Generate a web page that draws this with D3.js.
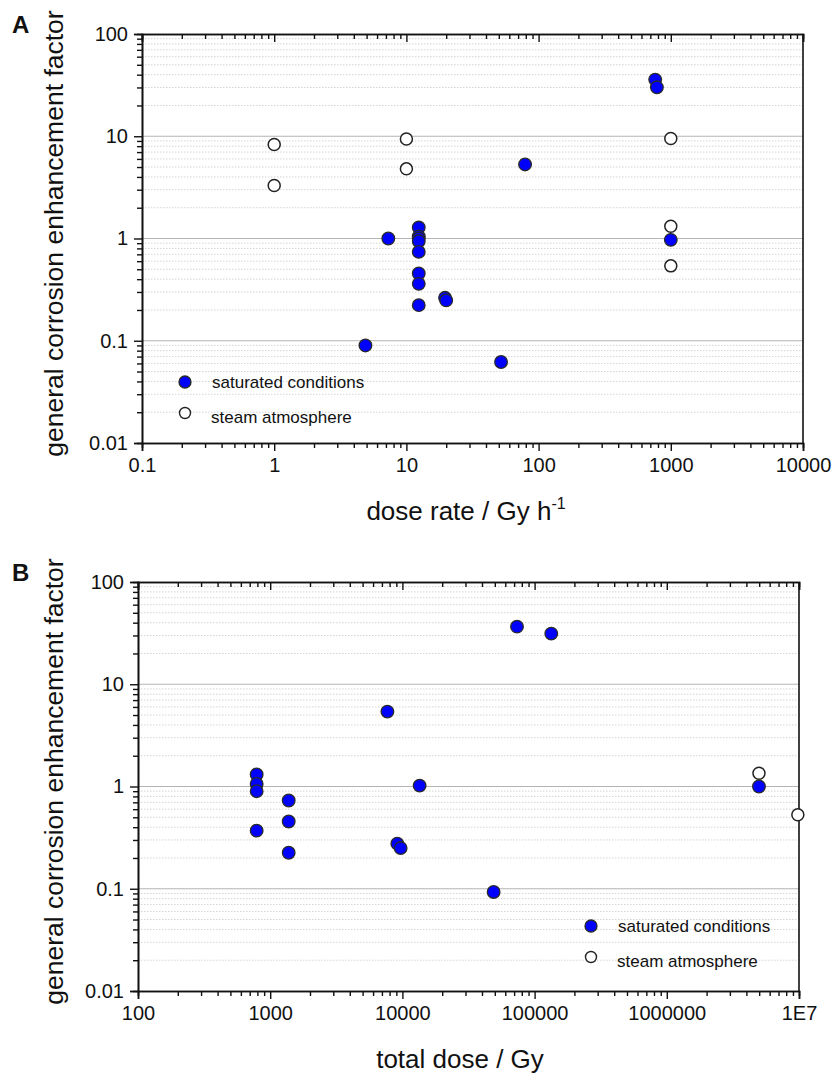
<!DOCTYPE html>
<html>
<head>
<meta charset="utf-8">
<script src="https://cdn.jsdelivr.net/npm/d3@7/dist/d3.min.js"></script>
<style>
  body { margin: 0; background: #fff; }
  svg text { font-family: "Liberation Sans", Arial, sans-serif; fill: #111; }
</style>
</head>
<body>
<div id="chart"></div>
<script>
// panel A: dose rate (Gy/h) vs enhancement factor
var rateSatX   = [7.3, 12.4, 12.4, 12.4, 12.4, 12.4, 12.4, 12.4, 12.4, 19.6, 20, 4.9, 52, 79, 762, 785, 1000];
var rateSatY   = [1.0, 1.28, 1.05, 1.0, 0.94, 0.74, 0.455, 0.36, 0.223, 0.263, 0.248, 0.09, 0.062, 5.3, 35.8, 30.1, 0.97];
var rateSteamX = [1, 1, 10, 10, 1000, 1000, 1000];
var rateSteamY = [8.3, 3.3, 9.4, 4.8, 9.5, 1.32, 0.54];

// panel B: total dose (Gy) vs enhancement factor
var doseSatX   = [790, 790, 790, 790, 1380, 1380, 1380, 7700, 9150, 9700, 13500, 49000, 73600, 133700, 4980000];
var doseSatY   = [1.31, 1.06, 0.9, 0.37, 0.73, 0.455, 0.225, 5.4, 0.276, 0.25, 1.02, 0.093, 36.6, 31.3, 1.0];
var doseSteamX = [4980000, 9800000];
var doseSteamY = [1.35, 0.53];

var rateTicks = ["0.1", "1", "10", "100", "1000", "10000"];
var doseTicks = ["100", "1000", "10000", "100000", "1000000", "1E7"];
var yTicks    = ["0.01", "0.1", "1", "10", "100"];

var svg = d3.select("#chart").append("svg")
	.attr("width", 835)
	.attr("height", 1073);

function minorsFor(decades){
	var out = [];
	for (var i = 0; i < decades.length - 1; i++) {
		for (var k = 2; k <= 9; k++) out.push(decades[i] * k);
	}
	return out;
}

function drawPanel(p){
	var x = d3.scaleLog().domain(p.xDomain).range([p.left, p.right]);
	var y = d3.scaleLog().domain([0.01, 100]).range([p.bottom, p.top]);
	var g = svg.append("g");

	var xMajor = p.xLabels.map(Number);
	var yMajor = yTicks.map(Number);
	var xMinor = minorsFor(xMajor);
	var yMinor = minorsFor(yMajor);

	// minor grid (dotted)
	g.selectAll(".gminor").data(yMinor).enter().append("line")
		.attr("x1", p.left).attr("x2", p.right)
		.attr("y1", function(d){ return y(d); })
		.attr("y2", function(d){ return y(d); })
		.attr("stroke", "#d4d4d4")
		.attr("stroke-width", 1)
		.attr("stroke-dasharray", "1.5,1.5");
	// major grid
	g.selectAll(".gmajor").data([0.1, 1, 10]).enter().append("line")
		.attr("x1", p.left).attr("x2", p.right)
		.attr("y1", function(d){ return y(d); })
		.attr("y2", function(d){ return y(d); })
		.attr("stroke", "#b4b4b4")
		.attr("stroke-width", 1.2);

	// axes
	var fmtX = function(d, i){ return p.xLabels[i]; };
	g.append("g").attr("transform", "translate(0," + p.bottom + ")")
		.call(d3.axisBottom(x).tickValues(xMajor).tickFormat(fmtX).tickSize(8).tickPadding(7))
		.call(styleAxis, 20);
	g.append("g").attr("transform", "translate(0," + p.bottom + ")")
		.call(d3.axisBottom(x).tickValues(xMinor).tickFormat("").tickSize(5))
		.call(styleAxis, 20);
	g.append("g").attr("transform", "translate(0," + p.top + ")")
		.call(d3.axisTop(x).tickValues(xMajor).tickFormat("").tickSize(-8))
		.call(styleAxis, 20);
	g.append("g").attr("transform", "translate(0," + p.top + ")")
		.call(d3.axisTop(x).tickValues(xMinor).tickFormat("").tickSize(-5))
		.call(styleAxis, 20);
	g.append("g").attr("transform", "translate(" + p.left + ",0)")
		.call(d3.axisLeft(y).tickValues(yMajor).tickFormat(function(d, i){ return yTicks[i]; }).tickSize(8).tickPadding(6))
		.call(styleAxis, 20);
	g.append("g").attr("transform", "translate(" + p.left + ",0)")
		.call(d3.axisLeft(y).tickValues(yMinor).tickFormat("").tickSize(5))
		.call(styleAxis, 20);
	g.append("line")
		.attr("x1", p.right).attr("x2", p.right)
		.attr("y1", p.top).attr("y2", p.bottom)
		.attr("stroke", "#111").attr("stroke-width", 1.6);

	// points
	var steam = p.steamX.map(function(v, i){ return [v, p.steamY[i]]; });
	var sat = p.satX.map(function(v, i){ return [v, p.satY[i]]; });
	g.selectAll(".steam").data(steam).enter().append("circle")
		.attr("cx", function(d){ return x(d[0]); })
		.attr("cy", function(d){ return y(d[1]); })
		.attr("r", 6)
		.attr("fill", "#fff")
		.attr("stroke", "#222")
		.attr("stroke-width", 1.5);
	g.selectAll(".sat").data(sat).enter().append("circle")
		.attr("cx", function(d){ return x(d[0]); })
		.attr("cy", function(d){ return y(d[1]); })
		.attr("r", 6.3)
		.attr("fill", "#0000ff")
		.attr("stroke", "#2a2a2a")
		.attr("stroke-width", 1.3);

	// legend
	var lg = g.append("g").attr("transform", "translate(" + p.legend[0] + "," + p.legend[1] + ")");
	lg.append("circle").attr("cx", 0).attr("cy", 0).attr("r", 6)
		.attr("fill", "#0000ff").attr("stroke", "#2a2a2a").attr("stroke-width", 1.3);
	lg.append("text").attr("x", 27).attr("y", 6).attr("font-size", 17).text("saturated conditions");
	lg.append("circle").attr("cx", 0).attr("cy", 31).attr("r", 5.5)
		.attr("fill", "#fff").attr("stroke", "#222").attr("stroke-width", 1.4);
	lg.append("text").attr("x", 26).attr("y", 41).attr("font-size", 17).text("steam atmosphere");

	// titles
	var xt = g.append("text")
		.attr("x", p.xTitleX).attr("y", p.bottom + 77)
		.attr("text-anchor", "middle")
		.attr("font-size", 26);
	xt.append("tspan").text(p.xTitle);
	if (p.sup) xt.append("tspan").attr("font-size", 16).attr("dy", -11).text(p.sup);

	g.append("text")
		.attr("transform", "translate(63," + ((p.top + p.bottom) / 2 - 5) + ") rotate(-90)")
		.attr("text-anchor", "middle")
		.attr("font-size", 26.5)
		.text("general corrosion enhancement factor");

	g.append("text")
		.attr("x", 12).attr("y", p.top - 1)
		.attr("font-size", 24)
		.attr("font-weight", "bold")
		.text(p.label);
}

function styleAxis(sel, fs){
	sel.select(".domain").attr("stroke", "#111").attr("stroke-width", 1.6);
	sel.selectAll(".tick line").attr("stroke", "#111").attr("stroke-width", 1.4);
	sel.selectAll(".tick text").attr("font-size", fs)
		.attr("font-family", "Liberation Sans, Arial, sans-serif").attr("fill", "#111");
}

drawPanel({
	label: "A", left: 142, right: 803, top: 34, bottom: 443,
	xDomain: [0.1, 10000], xLabels: rateTicks,
	satX: rateSatX, satY: rateSatY, steamX: rateSteamX, steamY: rateSteamY,
	legend: [185, 382], xTitle: "dose rate / Gy h", sup: "-1", xTitleX: 466
});
drawPanel({
	label: "B", left: 138, right: 799, top: 582, bottom: 991,
	xDomain: [100, 1e7], xLabels: doseTicks,
	satX: doseSatX, satY: doseSatY, steamX: doseSteamX, steamY: doseSteamY,
	legend: [591, 926], xTitle: "total dose / Gy", sup: null, xTitleX: 460
});
</script>
</body>
</html>
